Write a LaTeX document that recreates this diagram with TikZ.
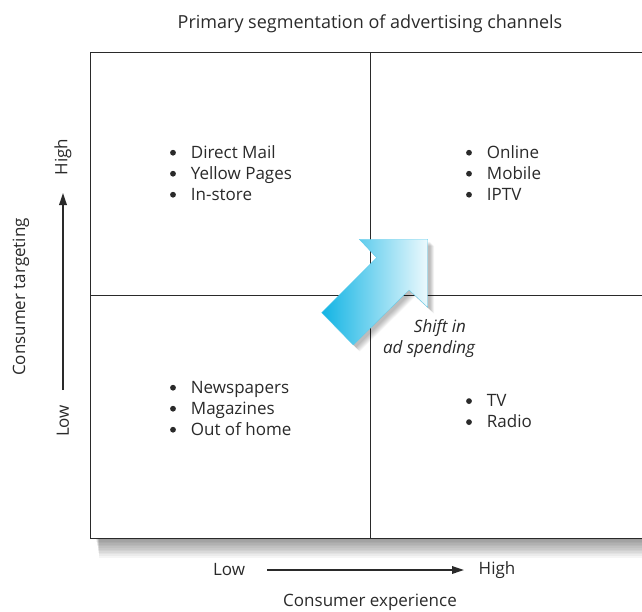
\documentclass[tikz,border=0pt]{standalone}
\usepackage{fontspec}
\setmainfont{Open Sans}
\usetikzlibrary{arrows.meta,positioning}

\definecolor{ink}{HTML}{2A2A2A}
\definecolor{shiftcyan}{HTML}{12B4E4}

\tikzset{
  txt/.style = {text=ink, font=\fontsize{17}{21}\selectfont, inner sep=0pt},
  item/.style = {txt, anchor=base west, text height=12pt, text depth=4pt},
  axisarrow/.style = {ink, line width=1.8pt, -{Triangle[length=12pt,width=7.5pt]}},
}

\begin{document}
\begin{tikzpicture}[x=1pt, y=-1pt]
\useasboundingbox (0,0) rectangle (642,611);

% soft shadow under the grid
\foreach \a in {0,...,11} {\fill[black, opacity=0.04] (96+\a*0.3,538) rectangle (642,540+\a*1.6);}

% the four quadrants
\draw[ink, line width=0.9pt, fill=white] (90,52) rectangle (650,538);
\draw[ink, line width=0.9pt] (370,52) -- (370,538);
\draw[ink, line width=0.9pt] (90,295) -- (650,295);

\node[txt, font=\fontsize{18}{21}\selectfont, anchor=base] (title) at (370,28.3) {Primary segmentation of advertising channels};

% channel lists, one line per node, bullets drawn beside them
\foreach \name/\lbl [count=\i from 0] in {mail/Direct Mail, yellow/Yellow Pages, instore/In-store}
  {\node[item] (\name) at (190.7,158.3+21*\i) {\lbl};
   \fill[ink] (173,152.7+21*\i) circle (2.9pt);}
\foreach \name/\lbl [count=\i from 0] in {online/Online, mobile/Mobile, iptv/IPTV}
  {\node[item] (\name) at (486.7,158.3+21*\i) {\lbl};
   \fill[ink] (469,152.7+21*\i) circle (2.9pt);}
\foreach \name/\lbl [count=\i from 0] in {papers/Newspapers, mags/Magazines, outdoor/Out of home}
  {\node[item] (\name) at (190.7,393.3+21*\i) {\lbl};
   \fill[ink] (173,387.7+21*\i) circle (2.9pt);}
\foreach \name/\lbl [count=\i from 0] in {tv/TV, radio/Radio}
  {\node[item] (\name) at (486.7,406.7+21*\i) {\lbl};
   \fill[ink] (469,401.1+21*\i) circle (2.9pt);}

% big shift arrow with blurred shadow
\foreach \a in {1,...,9} {
  \fill[black, opacity=0.03, xshift=2pt+\a*0.5pt, yshift=-2pt-\a*0.5pt]
    (321.7,312.7) -- (376.7,257.7) -- (359.3,239.3) -- (427.7,239.3)
    -- (427.7,307.3) -- (409,290) -- (353.3,345) -- cycle;
}
\shade[shading angle=45, left color=shiftcyan, right color=white!92!shiftcyan, draw=shiftcyan!70, line width=0.3pt]
  (321.7,312.7) -- (376.7,257.7) -- (359.3,239.3) -- (427.7,239.3)
  -- (427.7,307.3) -- (409,290) -- (353.3,345) -- cycle;
\node[txt, font=\fontsize{17}{21}\selectfont\itshape, anchor=base] (shifta) at (440,332.7) {Shift in};
\node[txt, font=\fontsize{17}{21}\selectfont\itshape, anchor=base] (shiftb) at (429,353.3) {ad spending};

% horizontal axis
\node[txt] (xlow) at (229,570) {Low};
\node[txt] (xhigh) at (497,570) {High};
\coordinate (xfrom) at (267,570);
\coordinate (xto) at (464,570);
\draw[axisarrow] (xfrom) -- (xto);
\node[txt] (xlabel) at (370,602) {Consumer experience};

% vertical axis
\node[txt, rotate=90] (ylow) at (63,421) {Low};
\node[txt, rotate=90] (yhigh) at (63,157) {High};
\coordinate (yfrom) at (63,390);
\coordinate (yto) at (63,193);
\draw[axisarrow] (yfrom) -- (yto);
\node[txt, rotate=90] (ylabel) at (21,297) {Consumer targeting};

\end{tikzpicture}
\end{document}
